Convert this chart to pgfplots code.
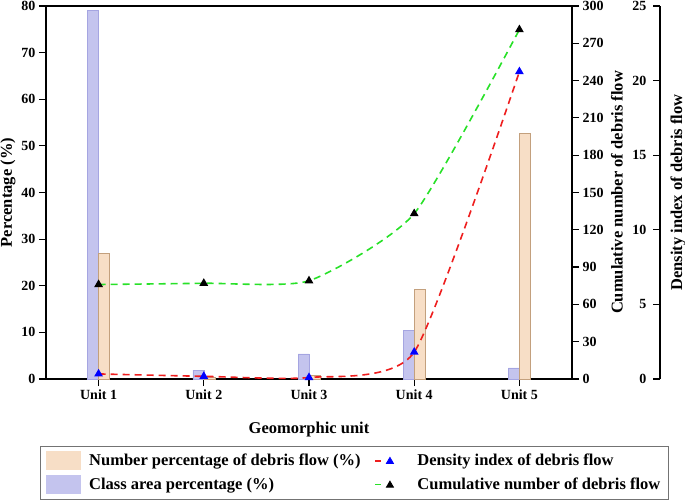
\documentclass[border=0pt]{standalone}
\usepackage{fontspec}
\setmainfont{Liberation Serif}
\usepackage{pgfplots}
\pgfplotsset{compat=1.18}

\definecolor{areablue}{RGB}{196,196,238}
\definecolor{areablueedge}{RGB}{165,165,225}
\definecolor{numorange}{RGB}{247,222,198}
\definecolor{numorangeedge}{RGB}{195,160,125}
\definecolor{lred}{RGB}{238,30,30}
\definecolor{lgreen}{RGB}{40,225,40}

\newcommand{\labfont}{\fontsize{16.5}{19}\selectfont\bfseries}

\pgfplotsset{
  base/.style={
    scale only axis, width=526pt, height=373pt,
    xmin=0.5, xmax=5.5, ymin=0,
    axis line style={line width=1.3pt},
    tick style={line width=1.2pt, black},
    major tick length=7pt, tick align=outside,
    tick label style={font=\fontsize{14}{16}\selectfont\bfseries},
    /pgf/number format/assume math mode=true,
    clip=false,
  },
  dline/.style={line width=1.6pt, dash pattern=on 7pt off 5pt, smooth, tension=0.35},
}

\pgfplotstableread{
x area num cum dens
1 79.0 27.0 76  0.34
2 1.9  0.4  77  0.18
3 5.4  0.7  79  0.10
4 10.5 19.2 133 1.80
5 2.4  52.7 281 20.6
}\datatable

\begin{document}
\begin{tikzpicture}
\begin{axis}[base,
  at={(0pt,0pt)}, anchor=south west,
  ymax=80, ytick={0,10,...,80},
  xtick={1,2,3,4,5},
  xticklabels={Unit 1,Unit 2,Unit 3,Unit 4,Unit 5},
  xtick pos=bottom, ytick pos=left,
  xlabel={Geomorphic unit}, ylabel={Percentage (\%)},
  every axis x label/.style={at={(axis description cs:0.5,0)}, anchor=center, yshift=-51pt, font=\labfont},
  every axis y label/.style={at={(axis description cs:0,0.5)}, xshift=-38pt, anchor=center, rotate=90, font=\labfont},
  legend columns=2,
  legend cell align=left,
  legend style={at={(axis description cs:-0.0114,-0.1796)}, anchor=north west,
    draw=black!55, line width=0.8pt,
    font=\labfont,
    inner xsep=6pt, inner ysep=5pt,
    row sep=5pt,
    /tikz/every odd column/.append style={column sep=6pt},
    /tikz/every even column/.append style={column sep=12pt}},
]
\addplot[ybar, bar width=11pt, bar shift=-5.5pt, fill=areablue, draw=areablueedge, line width=0.5pt, forget plot]
  table[x=x, y=area]{\datatable};
\addplot[ybar, bar width=11pt, bar shift=5.5pt, fill=numorange, draw=numorangeedge, line width=0.5pt, forget plot]
  table[x=x, y=num]{\datatable};

\addlegendimage{legend image code/.code={\fill[numorange] (0pt,-9pt) rectangle (34pt,9pt);}}
\addlegendimage{legend image code/.code={\path[draw=none,fill=none] (0pt,-9pt) rectangle (34pt,9pt);
   \draw[lred, line width=1.6pt] (0pt,0pt)--(6pt,0pt);
   \fill[blue] (11pt,-2.6pt)--(18pt,-2.6pt)--(14.5pt,3.4pt)--cycle;}}
\addlegendimage{legend image code/.code={\fill[areablue] (0pt,-9pt) rectangle (34pt,9pt);}}
\addlegendimage{legend image code/.code={\path[draw=none,fill=none] (0pt,-9pt) rectangle (34pt,9pt);
   \draw[lgreen, line width=1.6pt] (0pt,0pt)--(6pt,0pt);
   \fill[black] (11pt,-2.6pt)--(18pt,-2.6pt)--(14.5pt,3.4pt)--cycle;}}
\legend{Number percentage of debris flow (\%), Density index of debris flow,
        Class area percentage (\%), Cumulative number of debris flow}
\end{axis}

\begin{axis}[base,
  at={(0pt,0pt)}, anchor=south west,
  ymax=300, ytick={0,30,...,300},
  axis x line=none, axis y line*=right,
  ylabel={Cumulative number of debris flow},
  every axis y label/.style={at={(axis description cs:1,0.5)}, xshift=45pt, anchor=center, rotate=90, font=\labfont},
]
\addplot[dline, lgreen, mark=triangle*, mark size=3.5pt, mark options={solid, fill=black, draw=black}]
  table[x=x, y=cum]{\datatable};
\end{axis}

\begin{axis}[base,
  at={(0pt,0pt)}, anchor=south west,
  width=614pt, xmax=6.3365,
  ymax=25, ytick={0,5,...,25},
  axis x line=none, axis y line*=right,
  tick align=inside,
  yticklabel style={anchor=east, xshift=-10pt},
  ylabel={Density index of debris flow},
  every axis y label/.style={at={(axis description cs:1,0.5)}, xshift=18pt, anchor=center, rotate=90, font=\labfont},
]
\addplot[dline, lred, mark=triangle*, mark size=3.5pt, mark options={solid, fill=blue, draw=blue}]
  table[x=x, y=dens]{\datatable};
\end{axis}

\pgfresetboundingbox
\path (-46pt,-124pt) rectangle (639pt,379pt);
\end{tikzpicture}
\end{document}
